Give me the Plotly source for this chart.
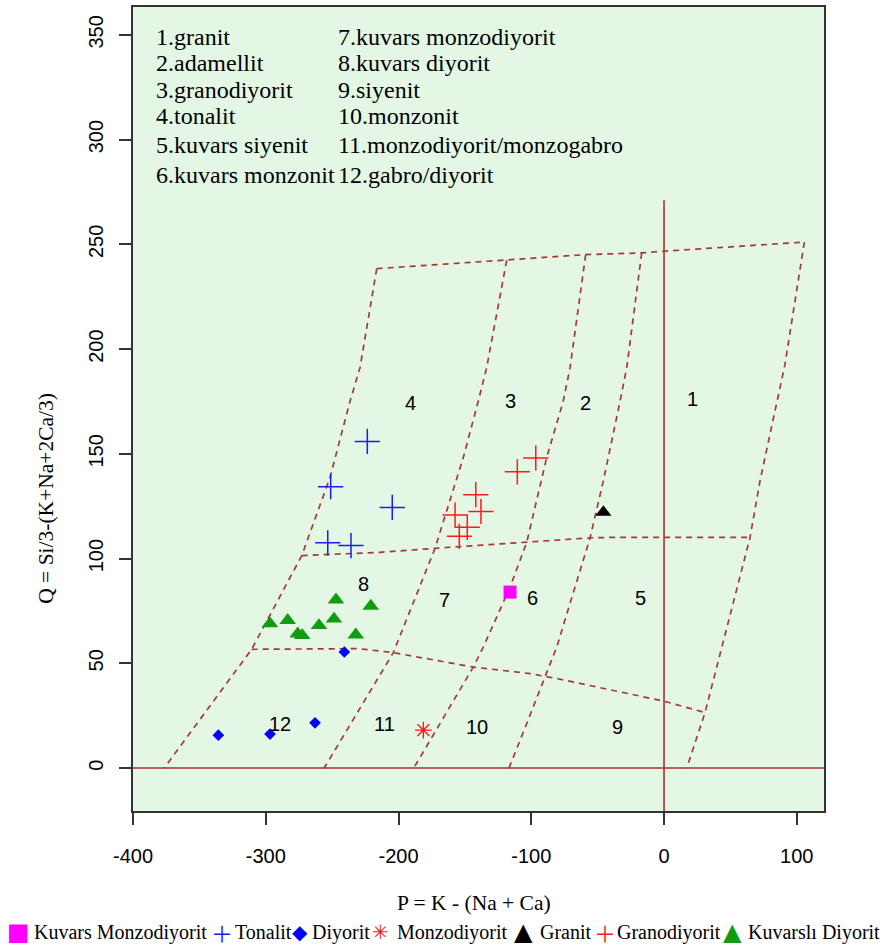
import plotly.graph_objects as go

# ---------------- data ----------------
# sample groups: P = K - (Na + Ca), Q = Si/3 - (K + Na + 2Ca/3)
kmz_x = [-116.0]
kmz_y = [84.0]

tonalit_x = [-223.5, -251.1, -204.7, -253.3, -235.8]
tonalit_y = [155.9, 134.3, 124.4, 107.5, 106.2]

diyorit_x = [-240.8, -262.9, -296.8, -335.7]
diyorit_y = [55.4, 21.6, 16.2, 15.7]

monzodiyorit_x = [-181.3]
monzodiyorit_y = [18.1]

granit_x = [-45.7]
granit_y = [122.1]

granodiyorit_x = [-96.6, -110.5, -141.8, -137.9, -157.4, -148.2, -154.2]
granodiyorit_y = [148.0, 141.4, 130.5, 122.5, 120.8, 114.9, 110.6]

kdiyorit_x = [-247.1, -220.9, -283.5, -296.8, -248.6, -259.9, -275.9, -272.5, -232.2]
kdiyorit_y = [80.3, 77.3, 70.5, 68.9, 71.2, 68.1, 64.1, 63.3, 63.6]

# field boundaries (dashed)
top_x = [-216.4, -118.5, -59.0, -16.8, -0.5, 105.7]
top_y = [238.4, 242.4, 245.1, 245.9, 246.7, 251.1]
mid_x = [-272.9, -213.9, -172.5, -103.4, -55.7, -40.7, 64.8]
mid_y = [101.4, 103.0, 104.9, 107.8, 109.9, 110.1, 110.1]
low_x = [-310.6, -230.0, -203.9, -143.7, -100.9, -78.3, -0.5, 30.9]
low_y = [56.7, 57.0, 55.1, 48.2, 45.1, 42.4, 32.0, 26.5]
left_x = [-216.4, -229.0, -236.5, -251.6, -272.9, -310.6, -376.5]
left_y = [238.4, 191.1, 175.2, 138.7, 101.4, 56.7, 0.0]
l43_x = [-118.5, -133.6, -139.9, -151.2, -172.5, -203.9, -256.0]
l43_y = [242.4, 191.1, 175.2, 148.2, 104.9, 55.1, 0.0]
l32_x = [-59.0, -70.8, -75.9, -88.4, -103.4, -116.0, -136.1, -143.7, -188.5]
l32_y = [245.1, 191.1, 175.2, 148.2, 107.8, 86.3, 57.8, 48.2, 0.0]
l21_x = [-16.8, -28.1, -33.1, -45.7, -55.7, -80.8, -103.4, -116.8]
l21_y = [245.9, 191.1, 175.2, 137.1, 109.9, 57.8, 21.3, 0.0]
right_x = [105.7, 91.1, 72.3, 64.8, 30.9, 17.1]
right_y = [251.1, 192.7, 137.1, 110.1, 26.5, 0.0]

# solid reference axes
hline_x = [-420, 140]
hline_y = [0, 0]
vline_x = [0, 0]
vline_y = [-30, 271]

# field numbers
field_labels = ["1", "2", "3", "4", "5", "6", "7", "8", "9", "10", "11", "12"]
field_x = [21.8, -59.5, -115.3, -191.3, -18.1, -99.4, -165.7, -226.7, -34.7, -140.9, -210.9, -289.3]
field_y = [176.2, 174.3, 175.2, 174.3, 81.4, 81.4, 80.0, 88.1, 19.5, 19.5, 21.0, 21.0]

# key of field names
key_left = ["1.granit", "2.adamellit", "3.granodiyorit", "4.tonalit",
            "5.kuvars siyenit", "6.kuvars monzonit"]
key_right = ["7.kuvars monzodiyorit", "8.kuvars diyorit", "9.siyenit",
             "10.monzonit", "11.monzodiyorit/monzogabro", "12.gabro/diyorit"]

x_ticks = [-400, -300, -200, -100, 0, 100]
x_ticktext = ["-400", "-300", "-200", "-100", "0", "100"]
y_ticks = [0, 50, 100, 150, 200, 250, 300, 350]
y_ticktext = ["0", "50", "100", "150", "200", "250", "300", "350"]

x_title = "P = K - (Na + Ca)"
y_title = "Q = Si/3-(K+Na+2Ca/3)"

legend_names = ["Kuvars Monzodiyorit", "Tonalit", "Diyorit", "Monzodiyorit",
                "Granit", "Granodiyorit", "Kuvarslı Diyorit"]

# ---------------- styles ----------------
W, H = 882, 947
PL, PR, PT, PB = 133, 824, 5, 811  # plot area in pixels
BG = "#e4f7e4"
DASH_COLOR = "#a23a3a"
SOLID_COLOR = "#b02e2e"
GREEN = "#109c10"
SERIF = "Liberation Serif, Times New Roman, serif"
SANS = "Liberation Sans, Arial, sans-serif"


def px_to_paper(px, py):
    return (px - PL) / (PR - PL), (PB - py) / (PB - PT)


fig = go.Figure()

dash_style = dict(color=DASH_COLOR, width=1.7, dash="6px,5px")
for xs, ys in [(top_x, top_y), (mid_x, mid_y), (low_x, low_y), (left_x, left_y),
               (l43_x, l43_y), (l32_x, l32_y), (l21_x, l21_y), (right_x, right_y)]:
    fig.add_trace(go.Scatter(x=xs, y=ys, mode="lines", line=dash_style,
                             showlegend=False, hoverinfo="skip"))

solid_style = dict(color=SOLID_COLOR, width=1.6)
fig.add_trace(go.Scatter(x=hline_x, y=hline_y, mode="lines", line=solid_style,
                         showlegend=False, hoverinfo="skip"))
fig.add_trace(go.Scatter(x=vline_x, y=vline_y, mode="lines", line=solid_style,
                         showlegend=False, hoverinfo="skip"))

series = [
    (legend_names[0], kmz_x, kmz_y, dict(symbol="square", size=13, color="#ff00ff")),
    (legend_names[1], tonalit_x, tonalit_y,
     dict(symbol="cross-thin-open", size=18, color="#1a1aff", line=dict(width=1.5, color="#1a1aff"))),
    (legend_names[2], diyorit_x, diyorit_y, dict(symbol="diamond", size=9, color="#0000ff")),
    (legend_names[3], monzodiyorit_x, monzodiyorit_y,
     dict(symbol="asterisk-open", size=14, color="#ff1a1a", line=dict(width=1.4, color="#ff1a1a"))),
    (legend_names[4], granit_x, granit_y, dict(symbol="triangle-up", size=14, color="black")),
    (legend_names[5], granodiyorit_x, granodiyorit_y,
     dict(symbol="cross-thin-open", size=18, color="#ff1a1a", line=dict(width=1.5, color="#ff1a1a"))),
    (legend_names[6], kdiyorit_x, kdiyorit_y, dict(symbol="triangle-up", size=14.5, color=GREEN)),
]
for name, xs, ys, mk in series:
    fig.add_trace(go.Scatter(x=xs, y=ys, mode="markers", name=name, marker=mk,
                             showlegend=False))

annotations = []
# field numbers
for t, x, y in zip(field_labels, field_x, field_y):
    annotations.append(dict(x=x, y=y, xref="x", yref="y", text=t, showarrow=False,
                            xanchor="center", yanchor="middle",
                            font=dict(family=SANS, size=20, color="black")))

# key of field names
key_line_py = [36.7, 63.3, 90.0, 116.7, 145.0, 175.0]
for col_px, col in [(154, key_left), (336, key_right)]:
    for t, py in zip(col, key_line_py):
        px_, py_ = px_to_paper(col_px, py - 2)
        annotations.append(dict(x=px_, y=py_, xref="paper", yref="paper", text=t,
                                showarrow=False, xanchor="left", yanchor="middle",
                                font=dict(family=SERIF, size=24, color="black")))

# axis titles
ax, ay = px_to_paper(474, 903)
annotations.append(dict(x=ax, y=ay, xref="paper", yref="paper", text=x_title, showarrow=False,
                        xanchor="center", yanchor="middle",
                        font=dict(family=SERIF, size=21.5, color="black")))
ax, ay = px_to_paper(46, 498)
annotations.append(dict(x=ax, y=ay, xref="paper", yref="paper", text=y_title, showarrow=False,
                        textangle=-90, xanchor="center", yanchor="middle",
                        font=dict(family=SERIF, size=21.5, color="black")))

# bottom key row (glyph + label)
leg_sym = ["■", "＋", "◆", "✳", "▲", "＋", "▲"]
leg_sym_color = ["#ff00ff", "#1a1aff", "#0000ff", "#ff1a1a", "black", "#ff1a1a", GREEN]
leg_sym_font = [("DejaVu Sans", 24), ("Noto Sans CJK SC", 22), ("DejaVu Sans", 20),
                ("DejaVu Sans", 20), ("DejaVu Sans", 24), ("Noto Sans CJK SC", 22),
                ("DejaVu Sans", 24)]
leg_sym_px = [18.7, 222, 300, 380, 523.7, 604.7, 732.7]
leg_text_px = [31.7, 233.3, 310, 395, 538.3, 615, 746]
leg_py = 932.5
for i, name in enumerate(legend_names):
    sx, sy = px_to_paper(leg_sym_px[i], leg_py)
    annotations.append(dict(x=sx, y=sy, xref="paper", yref="paper", text=leg_sym[i],
                            showarrow=False, xanchor="center", yanchor="middle",
                            font=dict(family=leg_sym_font[i][0], size=leg_sym_font[i][1],
                                      color=leg_sym_color[i])))
    tx, ty = px_to_paper(leg_text_px[i], leg_py)
    annotations.append(dict(x=tx, y=ty, xref="paper", yref="paper", text=name,
                            showarrow=False, xanchor="left", yanchor="middle",
                            font=dict(family=SERIF, size=20, color="black")))

axis_common = dict(showgrid=False, zeroline=False, showline=True, mirror=True,
                   linecolor="#333333", linewidth=1.6, ticks="outside", ticklen=12,
                   tickwidth=1.5, tickcolor="#333333",
                   tickfont=dict(family=SANS, size=20, color="black"))

fig.update_layout(
    width=W, height=H,
    margin=dict(l=PL, r=W - PR, t=PT, b=H - PB, pad=0),
    paper_bgcolor="white", plot_bgcolor=BG,
    showlegend=False,
    xaxis=dict(range=[-400, 120.5], tickvals=x_ticks, ticktext=x_ticktext,
               ticklabelstandoff=14, **axis_common),
    yaxis=dict(range=[-20.5, 363.3], tickvals=y_ticks, ticktext=y_ticktext, tickangle=-90,
               ticklabelstandoff=8, **axis_common),
    annotations=annotations,
)

fig.write_html(
    "out.html",
    config={"displayModeBar": False},
    post_script="document.body.style.margin='0';document.body.style.padding='0';"
                "document.body.style.overflow='hidden';",
)
